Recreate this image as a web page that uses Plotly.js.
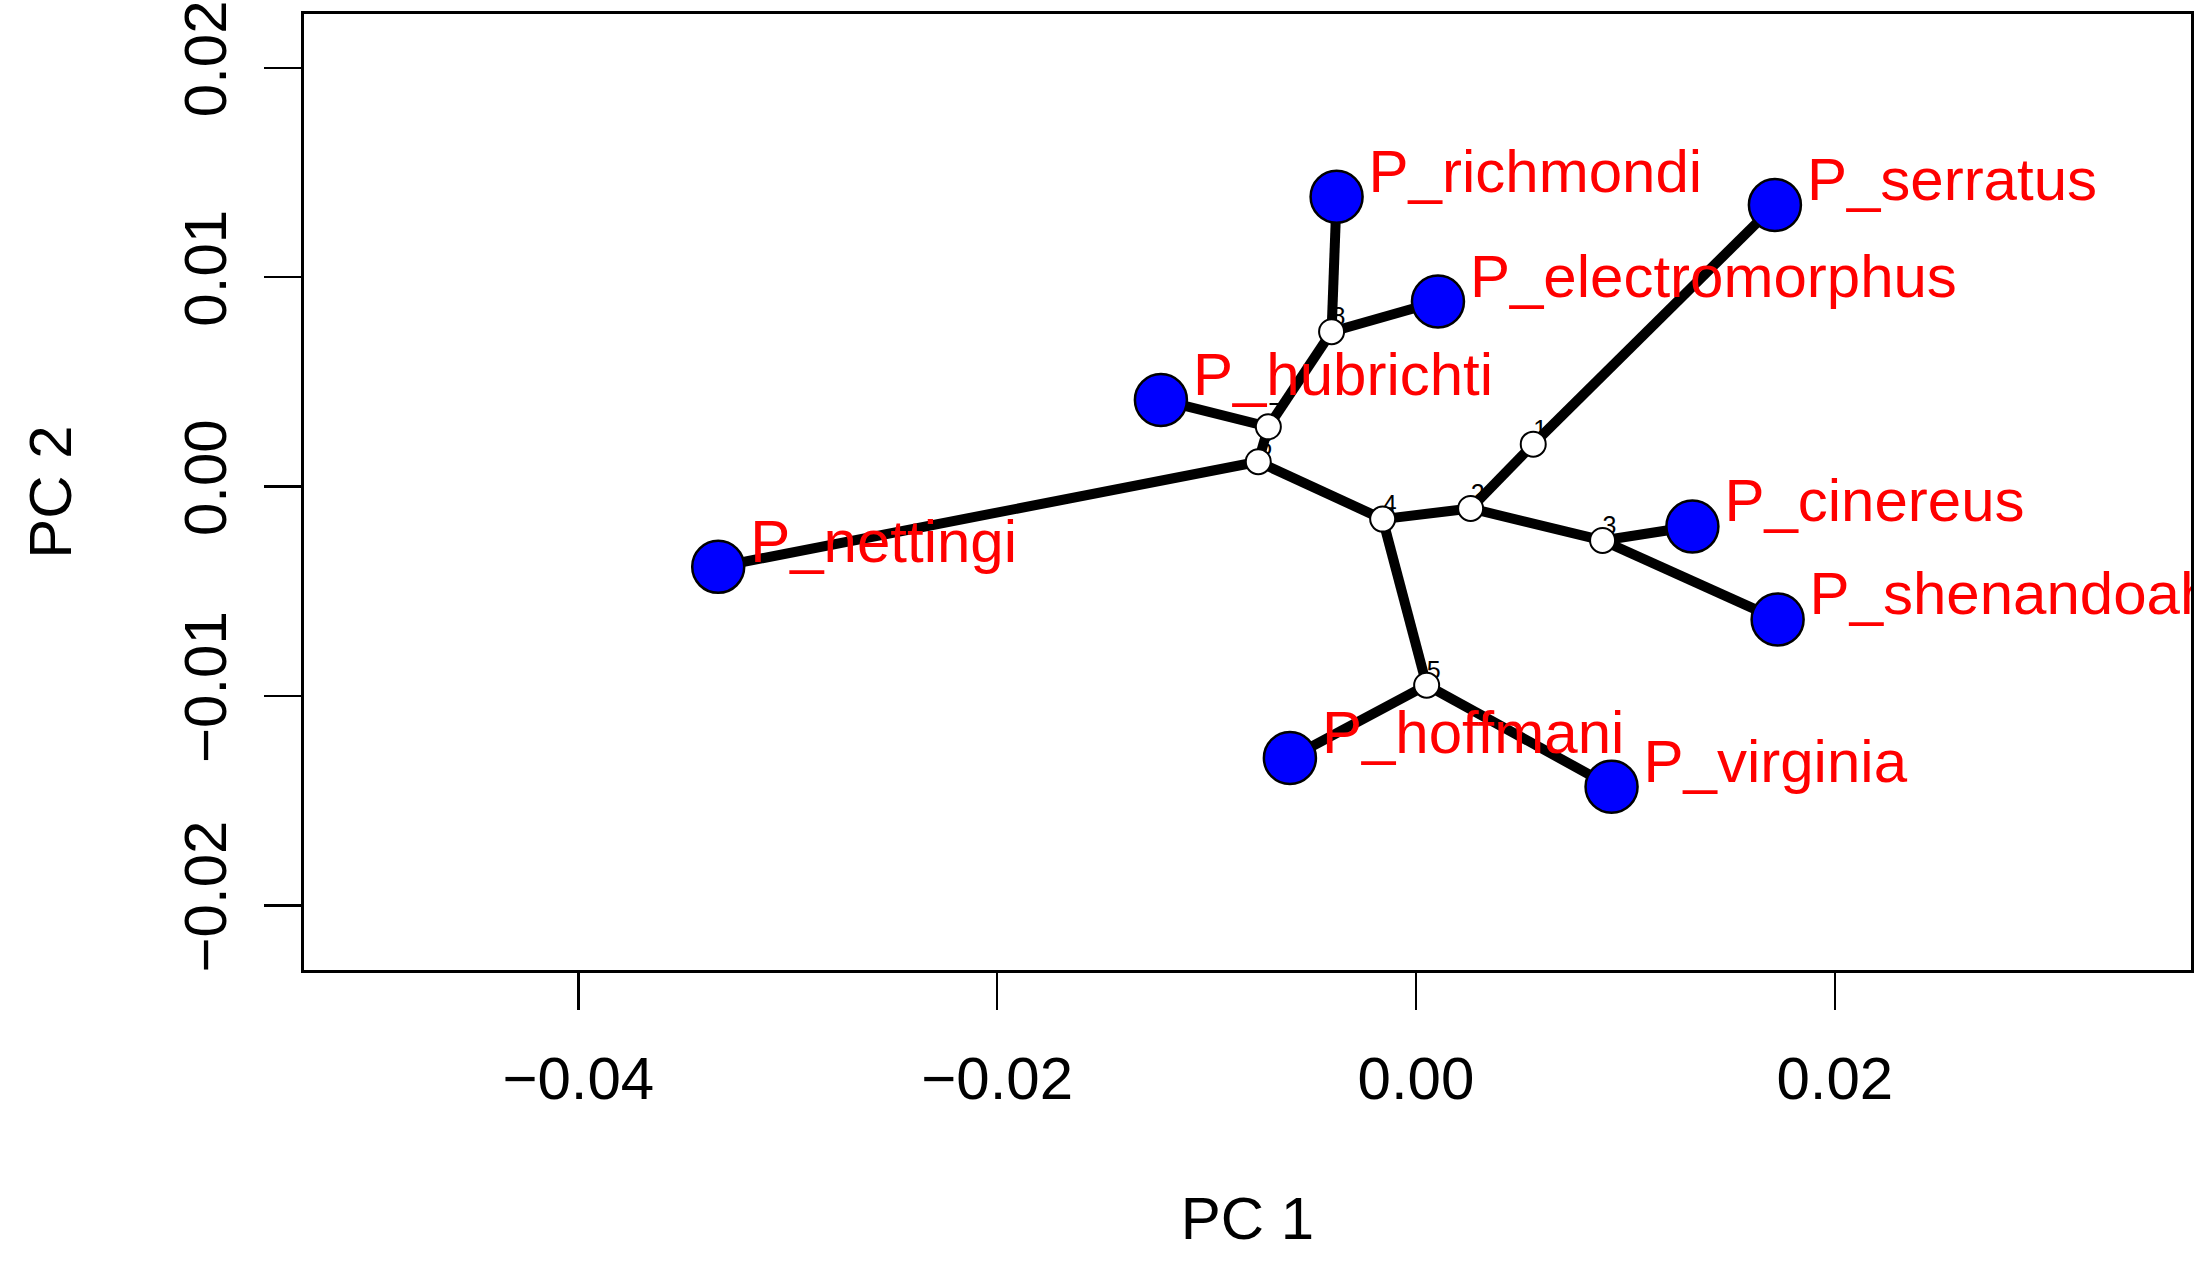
<!DOCTYPE html>
<html>
<head>
<meta charset="utf-8">
<script src="https://cdn.plot.ly/plotly-3.0.1.min.js"></script>
<style>
html, body { margin: 0; padding: 0; background: #ffffff; }
#chart { width: 2205px; height: 1261px; }
</style>
</head>
<body>
<div id="chart"></div>
<script>
// ---------------- data ----------------
const tipNames = ['P_richmondi', 'P_electromorphus', 'P_hubrichti', 'P_nettingi', 'P_serratus',
                  'P_cinereus', 'P_shenandoah', 'P_hoffmani', 'P_virginia'];
const tipPC1 = [-0.00379, 0.00105, -0.01218, -0.03332, 0.01714, 0.01320, 0.01727, -0.00602, 0.00934];
const tipPC2 = [0.01384, 0.00884, 0.00414, -0.00383, 0.01345, -0.00190, -0.00634, -0.01296, -0.01433];

const nodeNames = ['1', '2', '3', '4', '5', '6', '7', '8'];
const nodePC1 = [0.00560, 0.00261, 0.00891, -0.00159, 0.00051, -0.00753, -0.00705, -0.00403];
const nodePC2 = [0.00203, -0.00104, -0.00257, -0.00155, -0.00948, 0.00119, 0.00286, 0.00740];

const edgeFrom = ['8', '8', '8', '7', '7', '6', '6', '4', '4', '2', '2', '1', '3', '3', '5', '5'];
const edgeTo = ['P_richmondi', 'P_electromorphus', '7', 'P_hubrichti', '6', 'P_nettingi', '4', '2', '5',
                '1', '3', 'P_serratus', 'P_cinereus', 'P_shenandoah', 'P_hoffmani', 'P_virginia'];

const xTickVals = [-0.04, -0.02, 0, 0.02];
const xTickText = ['\u22120.04', '\u22120.02', '0.00', '0.02'];
const yTickVals = [-0.02, -0.01, 0, 0.01, 0.02];
const yTickText = ['\u22120.02', '\u22120.01', '0.00', '0.01', '0.02'];

// ---------------- style / geometry ----------------
const W = 2205, H = 1261;
const M = { l: 304, r: 14, t: 14, b: 291 };
const xRange = [-0.05310, 0.03701];
const yRange = [-0.02308, 0.02257];
const FONT = 'Liberation Sans, Arial, Helvetica, sans-serif';
const AXFS = 60;      // axis text size
const LABFS = 60;     // tip label size
const NUMFS = 25;     // internal node number size
const LABEL_DX = 32;  // px right of tip centre
const LABEL_BASE = 5; // baseline px above tip centre

const plotW = W - M.l - M.r, plotH = H - M.t - M.b;
const pxX = plotW / (xRange[1] - xRange[0]);
const pxY = plotH / (yRange[1] - yRange[0]);
// overlay axes shifted so text lands offset from the tips (textposition 'middle right' puts baseline 0.25*fs below)
const dxU = LABEL_DX / pxX;
const dyU = (LABEL_BASE + 0.25 * LABFS) / pxY;

// lookup for edges
const pos = {};
tipNames.forEach((n, i) => { pos[n] = [tipPC1[i], tipPC2[i]]; });
nodeNames.forEach((n, i) => { pos[n] = [nodePC1[i], nodePC2[i]]; });
const ex = [], ey = [];
edgeFrom.forEach((f, i) => {
  const a = pos[f], b = pos[edgeTo[i]];
  ex.push(a[0], b[0], null);
  ey.push(a[1], b[1], null);
});

const traces = [
  { // internal node numbers (under everything)
    x: nodePC1, y: nodePC2, text: nodeNames, mode: 'text', textposition: 'top right',
    textfont: { family: FONT, size: NUMFS, color: '#000000' }, hoverinfo: 'skip', cliponaxis: true
  },
  { // tree edges
    x: ex, y: ey, mode: 'lines', line: { color: '#000000', width: 10 }, hoverinfo: 'skip', connectgaps: false
  },
  { // internal nodes
    x: nodePC1, y: nodePC2, mode: 'markers',
    marker: { size: 25, color: '#ffffff', line: { color: '#000000', width: 2 } }, hoverinfo: 'skip'
  },
  { // tips
    x: tipPC1, y: tipPC2, mode: 'markers',
    marker: { size: 52, color: '#0000ff', line: { color: '#000000', width: 2.5 } }, hoverinfo: 'skip'
  },
  { // tip labels
    x: tipPC1, y: tipPC2, text: tipNames, mode: 'text', textposition: 'middle right',
    xaxis: 'x2', yaxis: 'y2', cliponaxis: true,
    textfont: { family: FONT, size: LABFS, color: '#ff0000' }, hoverinfo: 'skip'
  }
];

const axisCommon = {
  showgrid: false, zeroline: false, showline: true, mirror: true,
  linecolor: '#000000', linewidth: 3,
  ticks: 'outside', ticklen: 37, tickwidth: 2.5, tickcolor: '#000000',
  tickfont: { family: FONT, size: AXFS, color: '#000000' },
  automargin: false, fixedrange: true
};

const layout = {
  width: W, height: H,
  margin: M,
  paper_bgcolor: '#ffffff', plot_bgcolor: '#ffffff',
  showlegend: false,
  xaxis: Object.assign({}, axisCommon, {
    range: xRange, tickmode: 'array', tickvals: xTickVals, ticktext: xTickText,
    ticklabelstandoff: 17,
    title: { text: 'PC 1', font: { family: FONT, size: AXFS, color: '#000000' }, standoff: 86 }
  }),
  yaxis: Object.assign({}, axisCommon, {
    range: yRange, tickmode: 'array', tickvals: yTickVals, ticktext: yTickText,
    tickangle: -90, ticklabelstandoff: 14,
    title: { text: 'PC 2', font: { family: FONT, size: AXFS, color: '#000000' }, standoff: 82 }
  }),
  xaxis2: { overlaying: 'x', anchor: 'y2', range: [xRange[0] - dxU, xRange[1] - dxU], visible: false, fixedrange: true },
  yaxis2: { overlaying: 'y', anchor: 'x2', range: [yRange[0] - dyU, yRange[1] - dyU], visible: false, fixedrange: true }
};

Plotly.newPlot('chart', traces, layout, { staticPlot: true, displayModeBar: false });
</script>
</body>
</html>
